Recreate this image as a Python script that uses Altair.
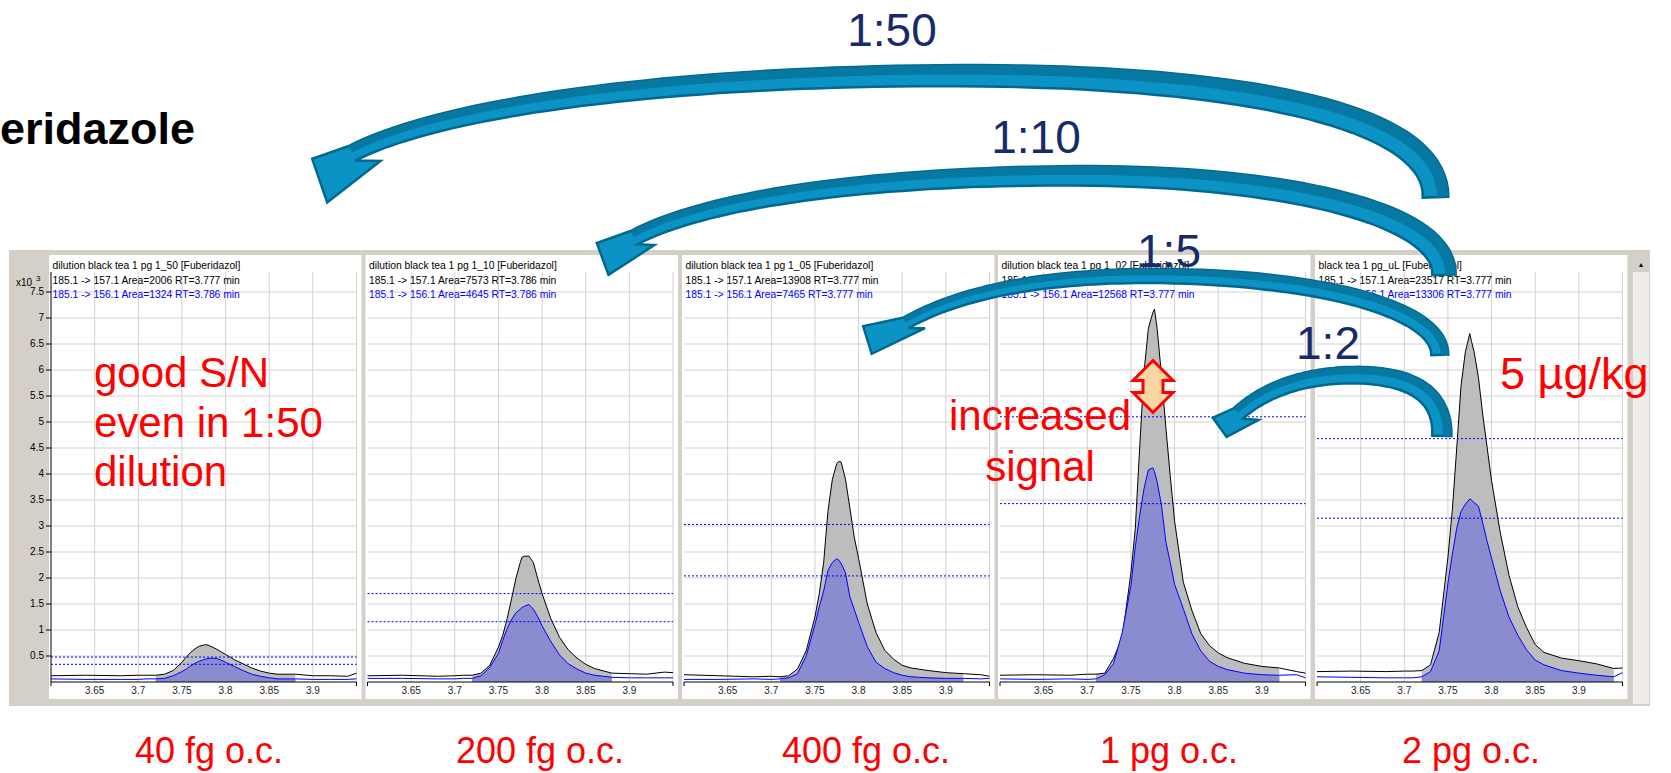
import altair as alt
import numpy as np
import pandas as pd

# ---------------- values ----------------
rt = [3.60, 3.64, 3.68, 3.70, 3.71, 3.72, 3.73, 3.74, 3.75, 3.755, 3.76, 3.765,
      3.77, 3.775, 3.777, 3.78, 3.785, 3.79, 3.795, 3.80, 3.81, 3.82, 3.83, 3.84,
      3.85, 3.86, 3.88, 3.90, 3.92, 3.94, 3.95]

# 185.1 -> 157.1 (black) and 185.1 -> 156.1 (blue), x10^3 counts
p1_157 = [0.12, 0.13, 0.12, 0.13, 0.13, 0.13, 0.15, 0.22, 0.38, 0.48, 0.57, 0.64, 0.69, 0.71, 0.72, 0.71,
          0.67, 0.63, 0.58, 0.53, 0.43, 0.35, 0.27, 0.21, 0.17, 0.15, 0.15, 0.12, 0.12, 0.11, 0.17]
p1_156 = [0.06, 0.05, 0.05, 0.05, 0.06, 0.06, 0.07, 0.12, 0.20, 0.25, 0.31, 0.36, 0.40, 0.43, 0.44, 0.45,
          0.46, 0.45, 0.42, 0.38, 0.30, 0.22, 0.15, 0.11, 0.08, 0.06, 0.06, 0.05, 0.05, 0.05, 0.06]
p2_157 = [0.12, 0.13, 0.11, 0.12, 0.13, 0.13, 0.17, 0.32, 0.67, 0.90, 1.22, 1.60, 1.99, 2.30, 2.40, 2.42,
          2.42, 2.30, 1.99, 1.70, 1.22, 0.86, 0.62, 0.46, 0.34, 0.26, 0.17, 0.16, 0.15, 0.19, 0.18]
p2_156 = [0.07, 0.07, 0.06, 0.06, 0.07, 0.07, 0.12, 0.28, 0.55, 0.80, 1.03, 1.20, 1.33, 1.40, 1.43, 1.46,
          1.49, 1.40, 1.26, 1.08, 0.78, 0.52, 0.35, 0.25, 0.17, 0.13, 0.09, 0.08, 0.08, 0.08, 0.08]
p3_157 = [0.14, 0.12, 0.10, 0.11, 0.10, 0.12, 0.25, 0.60, 1.25, 1.70, 2.30, 3.30, 3.90, 4.20, 4.24, 4.23,
          3.90, 3.35, 2.79, 2.38, 1.50, 0.95, 0.61, 0.44, 0.32, 0.27, 0.22, 0.18, 0.16, 0.14, 0.11]
p3_156 = [0.05, 0.05, 0.06, 0.05, 0.06, 0.08, 0.16, 0.50, 1.10, 1.45, 1.75, 2.15, 2.30, 2.37, 2.35, 2.28,
          2.10, 1.64, 1.40, 1.15, 0.68, 0.38, 0.26, 0.18, 0.13, 0.10, 0.08, 0.07, 0.07, 0.06, 0.07]
p4_157 = [0.13, 0.14, 0.13, 0.15, 0.15, 0.17, 0.45, 0.85, 2.10, 2.95, 4.50, 5.96, 6.80, 7.10, 7.17, 6.80,
          5.90, 4.90, 3.97, 3.10, 1.92, 1.37, 0.93, 0.70, 0.56, 0.47, 0.36, 0.30, 0.27, 0.20, 0.17]
p4_156 = [0.06, 0.05, 0.06, 0.05, 0.06, 0.14, 0.35, 0.95, 1.85, 2.60, 3.20, 3.72, 4.08, 4.12, 4.05, 3.85,
          3.40, 2.70, 2.30, 1.88, 1.41, 0.92, 0.60, 0.40, 0.30, 0.24, 0.17, 0.14, 0.13, 0.14, 0.08]
p5_157 = [0.20, 0.21, 0.20, 0.21, 0.21, 0.22, 0.33, 0.95, 2.40, 3.30, 4.48, 5.70, 6.35, 6.70, 6.55, 6.35,
          5.85, 5.13, 4.50, 3.87, 2.87, 2.05, 1.45, 1.05, 0.72, 0.57, 0.46, 0.41, 0.35, 0.26, 0.27]
p5_156 = [0.10, 0.09, 0.08, 0.08, 0.08, 0.10, 0.20, 0.60, 1.90, 2.45, 2.95, 3.28, 3.42, 3.52, 3.50, 3.45,
          3.38, 3.05, 2.70, 2.38, 1.75, 1.25, 0.90, 0.62, 0.42, 0.33, 0.22, 0.17, 0.13, 0.10, 0.18]

black_traces = [p1_157, p2_157, p3_157, p4_157, p5_157]
blue_traces = [p1_156, p2_156, p3_156, p4_156, p5_156]

peak_start = [3.72, 3.72, 3.71, 3.71, 3.72]
peak_end = [3.88, 3.88, 3.92, 3.92, 3.94]

qual_high = [0.48, 1.70, 3.03, 5.10, 4.68]
qual_low = [0.34, 1.16, 2.04, 3.43, 3.15]

titles = ["dilution black tea 1 pg 1_50 [Fuberidazol]",
          "dilution black tea 1 pg 1_10 [Fuberidazol]",
          "dilution black tea 1 pg 1_05 [Fuberidazol]",
          "dilution black tea 1 pg 1_02 [Fuberidazol]",
          "black tea 1 pg_uL [Fuberidazol]"]
lines_157 = ["185.1 -> 157.1 Area=2006 RT=3.777 min",
             "185.1 -> 157.1 Area=7573 RT=3.786 min",
             "185.1 -> 157.1 Area=13908 RT=3.777 min",
             "185.1 -> 157.1 Area=21524 RT=3.777 min",
             "185.1 -> 157.1 Area=23517 RT=3.777 min"]
lines_156 = ["185.1 -> 156.1 Area=1324 RT=3.786 min",
             "185.1 -> 156.1 Area=4645 RT=3.786 min",
             "185.1 -> 156.1 Area=7465 RT=3.777 min",
             "185.1 -> 156.1 Area=12568 RT=3.777 min",
             "185.1 -> 156.1 Area=13306 RT=3.777 min"]
amounts = ["40 fg o.c.", "200 fg o.c.", "400 fg o.c.", "1 pg o.c.", "2 pg o.c."]
dilutions = ["1:50", "1:10", "1:5", "1:2"]
x_ticks = [3.65, 3.7, 3.75, 3.8, 3.85, 3.9]
x_grid = [3.65, 3.7, 3.75, 3.8, 3.85, 3.9, 3.95]
x_ends = [3.6, 3.95]
y_ticks = [0.5, 1, 1.5, 2, 2.5, 3, 3.5, 4, 4.5, 5, 5.5, 6, 6.5, 7, 7.5]

# ---------------- layout ----------------
W, H = 1671, 773
S = 1671 / 1568
Y_AXIS, Y_TOP = 682, 272
YMAX = (Y_AXIS - Y_TOP) / 52.0
x_ranges = [(51, 356.5), (367.5, 673), (684, 989.5), (1000, 1305.5), (1317, 1622.5)]
FONT = "Liberation Sans"
FRAME = "#d4d0c8"

ysc = alt.Scale(domain=[0, YMAX], range=[Y_AXIS, Y_TOP], nice=False, zero=False)
one = pd.DataFrame({"k": [0]})


def make_panel(i):
    xsc = alt.Scale(domain=[3.6, 3.95], range=list(x_ranges[i]), nice=False, zero=False)

    def X(f):
        return alt.X(f, type="quantitative", scale=xsc, axis=None)

    def Y(f):
        return alt.Y(f, type="quantitative", scale=ysc, axis=None)

    x0, x1 = x_ranges[i]
    tr = pd.DataFrame({"rt": rt, "q157": black_traces[i], "q156": blue_traces[i]})
    in_peak = (alt.datum.rt >= peak_start[i]) & (alt.datum.rt <= peak_end[i])

    bg = alt.Chart(pd.DataFrame({"a": [3.6], "b": [3.95]})).mark_rect(
        color="white", xOffset=-2, x2Offset=5).encode(
        x=X("a"), x2="b:Q", y=alt.value(255), y2=alt.value(699))

    vgrid = alt.Chart(pd.DataFrame({"g": x_grid})).mark_rule(color="#d2d2d2", strokeWidth=1).encode(
        x=X("g"), y=alt.value(Y_TOP), y2=alt.value(Y_AXIS))
    hgrid = alt.Chart(pd.DataFrame({"v": y_ticks})).mark_rule(color="#d2d2d2", strokeWidth=1).encode(
        y=Y("v"), x=alt.value(x0), x2=alt.value(x1))

    a157 = alt.Chart(tr).transform_filter(in_peak).mark_area(color="#bdbdbd", opacity=1).encode(
        x=X("rt"), y=Y("q157"))
    l157 = alt.Chart(tr).mark_line(color="#000000", strokeWidth=1).encode(x=X("rt"), y=Y("q157"))
    a156 = alt.Chart(tr).transform_filter(in_peak).mark_area(color="#8b8bd0", opacity=1).encode(
        x=X("rt"), y=Y("q156"))
    l156 = alt.Chart(tr).mark_line(color="#0000ff", strokeWidth=1).encode(x=X("rt"), y=Y("q156"))

    dashed = alt.Chart(pd.DataFrame({"v": [qual_high[i], qual_low[i]]})).mark_rule(
        color="#0000ff", strokeDash=[2, 2], strokeWidth=1).encode(
        y=Y("v"), x=alt.value(x0), x2=alt.value(x1))

    # x axis: domain line, end ticks and tick labels through the panel's x scale
    xdomain = alt.Chart(one).mark_rule(color="#000000", strokeWidth=1).encode(
        x=alt.value(x0), x2=alt.value(x1), y=alt.value(Y_AXIS), y2=alt.value(Y_AXIS))
    ends = alt.Chart(pd.DataFrame({"e": x_ends})).mark_rule(color="#000000").encode(
        x=X("e"), y=alt.value(Y_AXIS), y2=alt.value(Y_AXIS + 4))
    xlabels = alt.Chart(pd.DataFrame({"t": x_ticks})).mark_text(
        align="center", baseline="middle", font=FONT, fontSize=10, color="#222222").encode(
        x=X("t"), y=alt.value(691), text=alt.Text("t:Q", format="~g"))

    texts = []
    for txt, col, yb in [(titles[i], "#000000", 268.5), (lines_157[i], "#000000", 283.5),
                         (lines_156[i], "#0000ff", 297.5)]:
        texts.append(alt.Chart(pd.DataFrame({"t": [txt]})).mark_text(
            align="left", baseline="alphabetic", font=FONT, fontSize=10.3, color=col).encode(
            x=alt.value(x0 + 1.5), y=alt.value(yb), text="t:N"))

    layers = [bg, vgrid, hgrid, a157, l157, a156, l156, dashed, xdomain, ends, xlabels, *texts]

    if i == 0:
        ydomain = alt.Chart(one).mark_rule(color="#000000", strokeWidth=1).encode(
            x=alt.value(x0), x2=alt.value(x0), y=alt.value(Y_TOP), y2=alt.value(Y_AXIS))
        yticks = alt.Chart(pd.DataFrame({"v": y_ticks})).mark_rule(color="#000000").encode(
            y=Y("v"), x=alt.value(x0 - 5), x2=alt.value(x0))
        ylabels = alt.Chart(pd.DataFrame({"v": y_ticks})).mark_text(
            align="right", baseline="middle", font=FONT, fontSize=10, color="#000000").encode(
            y=Y("v"), x=alt.value(x0 - 7), text=alt.Text("v:Q", format="~g"))
        layers += [ydomain, yticks, ylabels]

    return alt.layer(*layers)


# ---------------- annotation shapes ----------------
def bezier(p0, p1, p2, p3, n=40):
    t = np.linspace(0.0, 1.0, n)[:, None]
    p0, p1, p2, p3 = (np.asarray(p, float) for p in (p0, p1, p2, p3))
    return (1 - t) ** 3 * p0 + 3 * (1 - t) ** 2 * t * p1 + 3 * (1 - t) * t ** 2 * p2 + t ** 3 * p3


def to_path(poly):
    return "M" + " L".join(f"{x:.1f},{y:.1f}" for x, y in poly) + " Z"


def arrow_paths(segs, w0, w1, head):
    parts = []
    for k, s in enumerate(segs):
        b = bezier(*s)
        parts.append(b if k == 0 else b[1:])
    c = np.vstack(parts)
    d = np.gradient(c, axis=0)
    d /= np.linalg.norm(d, axis=1, keepdims=True)
    nrm = np.column_stack([-d[:, 1], d[:, 0]])
    L = np.concatenate([[0], np.cumsum(np.linalg.norm(np.diff(c, axis=0), axis=1))])
    w = (w0 + (w1 - w0) * L / L[-1])[:, None] / 2
    outer = c + nrm * w
    inner = c - nrm * w
    body = np.vstack([outer, np.asarray(head, float), inner[::-1]]) * S
    band = np.vstack([outer, (c + nrm * w * 0.1)[::-1]]) * S
    return to_path(body), to_path(band)


arrow_specs = [
    dict(segs=[((1347, 185), (1349, 108), (1165, 71), (900, 71)),
               ((900, 71), (640, 71), (420, 98), (330, 144))],
         w0=24, w1=15, head=((293, 149), (307, 190), (357, 151))),
    dict(segs=[((1355, 258), (1357, 200), (1205, 165), (1010, 165)),
               ((1010, 165), (820, 165), (665, 186), (595, 223))],
         w0=22, w1=14, head=((560, 228), (571, 258), (614, 230))),
    dict(segs=[((1351, 333), (1352, 293), (1250, 261), (1090, 259)),
               ((1090, 259), (980, 258), (902, 274), (850, 303))],
         w0=16, w1=11, head=((810, 306), (818, 332), (868, 308))),
    dict(segs=[((1353, 409), (1354, 368), (1322, 352), (1270, 352)),
               ((1270, 352), (1222, 352), (1185, 367), (1162, 388))],
         w0=18, w1=13, head=((1138, 392), (1151, 410), (1181, 394))),
]


def shape(path, fill, x=0, y=0, stroke=None, sw=0):
    kw = dict(shape=path, size=4, filled=True, fill=fill, opacity=1, fillOpacity=1)
    if stroke:
        kw.update(stroke=stroke, strokeWidth=sw, strokeOpacity=1, strokeJoin="miter")
    else:
        kw.update(strokeWidth=0)
    return alt.Chart(one).mark_point(**kw).encode(x=alt.value(x), y=alt.value(y))


def label(txt, x, y, size, color, align="left", weight="normal"):
    return alt.Chart(pd.DataFrame({"t": [txt]})).mark_text(
        align=align, baseline="alphabetic", font=FONT, fontSize=size, color=color,
        fontWeight=weight).encode(x=alt.value(x), y=alt.value(y), text="t:N")


def rect(x, x2, y, y2, fill):
    return alt.Chart(one).mark_rect(color=fill).encode(
        x=alt.value(x), x2=alt.value(x2), y=alt.value(y), y2=alt.value(y2))


frame = rect(9, 1650, 250, 706, FRAME)
scroll = rect(1633, 1649, 256, 704, "#efede7")
scroll_btn = rect(1633, 1649, 256, 272, FRAME)
scroll_tri = label("\u25b2", 1641, 267, 7, "#000000", align="center")
x10 = label("x10", 16, 286, 10, "#000000")
x10e = label("3", 36, 281, 8, "#000000")

panels = [make_panel(i) for i in range(5)]

navy = "#172a69"
navy_pos = [(892, 46), (1036, 153), (1169, 267), (1328, 359)]
navy_labels = [label(t, x, y, 46, navy, align="center") for t, (x, y) in zip(dilutions, navy_pos)]

arrow_layers = []
for spec in arrow_specs:
    body, band = arrow_paths(**spec)
    arrow_layers.append(shape(body, "#0a93c4", stroke="#03688e", sw=2.5))
    arrow_layers.append(shape(band, "#0678a2"))

dbl = "M0,-26 L20,-6 L10,-6 L10,6 L20,6 L0,26 L-20,6 L-10,6 L-10,-6 L-20,-6 Z"
double_arrow = shape(dbl, "#fbd5a2", x=1153, y=386.5, stroke="#ff0000", sw=3)

red = "#ff0000"
red_texts = [
    label("good S/N", 94, 387, 42, red),
    label("even in 1:50", 94, 437, 42, red),
    label("dilution", 94, 486, 42, red),
    label("increased", 1040, 430, 42, red, align="center"),
    label("signal", 1040, 481, 42, red, align="center"),
    label("5 \u00b5g/kg", 1500, 389, 45, red),
]
amount_pos = [209, 540, 866, 1169, 1471]
amount_labels = [label(t, x, 763, 36, red, align="center") for t, x in zip(amounts, amount_pos)]
compound = label("eridazole", 0, 144, 45, "#000000", weight="bold")

chart = alt.layer(
    frame, scroll, scroll_btn, scroll_tri, *panels, x10, x10e, compound,
    *navy_labels, *arrow_layers, double_arrow, *red_texts, *amount_labels
).resolve_scale(x="independent").properties(
    width=W, height=H, padding=0, background="white",
    autosize=alt.AutoSizeParams(type="none")
).configure_view(strokeWidth=0)

chart.save("out.html", embed_options={"renderer": "svg", "actions": False})
